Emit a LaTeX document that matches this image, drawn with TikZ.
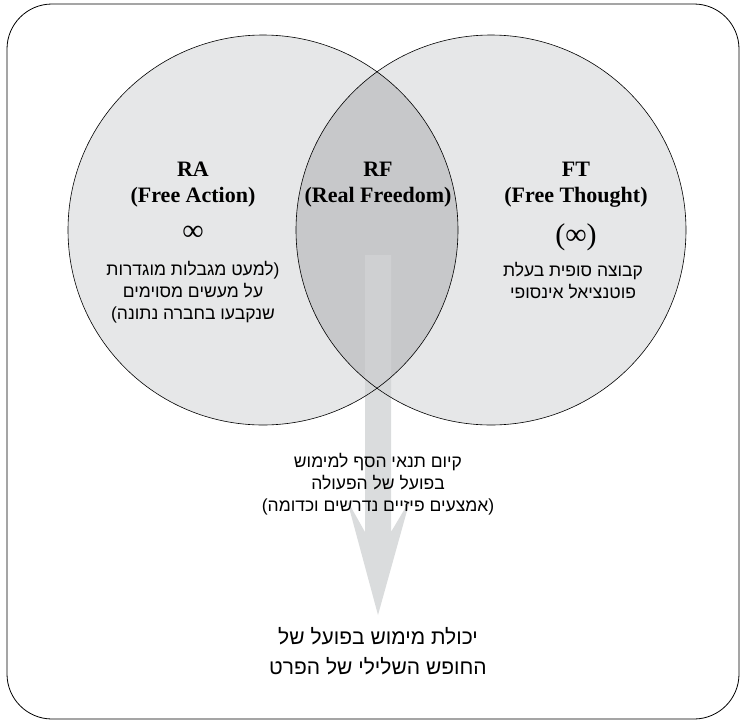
\documentclass[tikz,border=0pt]{standalone}
\usepackage{fontspec}
\setmainfont{Liberation Serif}
\newfontfamily\hebfont[Script=Hebrew]{Liberation Sans}
\TeXXeTstate=1
\usetikzlibrary{positioning}
\definecolor{setgray}{HTML}{E6E7E8}
\definecolor{lensgray}{HTML}{C7C8CA}
\definecolor{flowgray}{HTML}{D1D3D4}
\newcommand{\heb}[1]{{\hebfont\beginR #1\endR}}

\begin{document}
\begin{tikzpicture}[
  x=1pt, y=-1pt,
  title/.style={font=\fontsize{22}{26}\selectfont\bfseries, align=center},
  infin/.style={font=\fontsize{30}{30}\selectfont},
  note/.style={font=\fontsize{17.5}{22}\selectfont, align=center},
  result/.style={font=\fontsize{21}{30}\selectfont, align=center},
  outline/.style={draw=black, line width=0.6pt},
  flow/.style={fill=flowgray, fill opacity=0.8},
]
  \useasboundingbox (0,0) rectangle (740,721);

  % Frame
  \draw[line width=0.8pt, rounded corners=45pt] (7,4) rectangle (739,719);

  % Sets: RA (left) and FT (right)
  \coordinate (ca) at (263,230);
  \coordinate (cf) at (491,230);
  \fill[setgray] (ca) circle (195pt);
  \fill[setgray] (cf) circle (195pt);
  \begin{scope}
    \clip (ca) circle (195pt);
    \fill[lensgray] (cf) circle (195pt);
  \end{scope}

  % Block arrow out of the intersection
  \coordinate (flowtop) at (378,255);
  \fill[flow] ([xshift=-13pt]flowtop) -- ([xshift=13pt]flowtop)
    -- (391,532) -- (410,500) -- (378,615) -- (347,500) -- (365,532) -- cycle;

  \draw[outline] (ca) circle (195pt);
  \draw[outline] (cf) circle (195pt);

  % Labels inside the sets
  \node[title] (ra) at (193,185) {RA\\(Free Action)};
  \node[infin] (rainf) at (193,233) {∞};
  \node[note] (ranote) at (193,292)
    {\heb{(למעט מגבלות מוגדרות}\\\heb{על מעשים מסוימים}\\\heb{שנקבעו בחברה נתונה)}};

  \node[title] (rf) at (378,185) {RF\\(Real Freedom)};

  \node[title] (ft) at (576,185) {FT\\(Free Thought)};
  \node[infin] (ftinf) at (576,237) {(∞)};
  \node[note] (ftnote) at (573,281)
    {\heb{קבוצה סופית בעלת}\\\heb{פוטנציאל אינסופי}};

  % Along the arrow and at its tip
  \node[note] (cond) at (378,484)
    {\heb{קיום תנאי הסף למימוש}\\\heb{בפועל של הפעולה}\\\heb{(אמצעים פיזיים נדרשים וכדומה)}};
  \node[result] (ability) at (378,651)
    {\heb{יכולת מימוש בפועל של}\\\heb{החופש השלילי של הפרט}};
\end{tikzpicture}
\end{document}
